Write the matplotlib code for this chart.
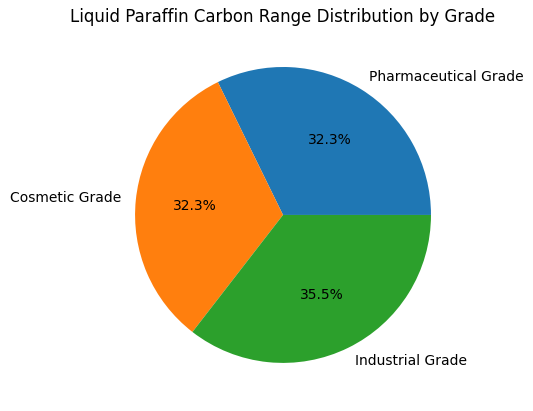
import matplotlib
matplotlib.use("Agg")
import matplotlib.pyplot as plt

grades = ["Pharmaceutical Grade", "Cosmetic Grade", "Industrial Grade"]
values = [10, 10, 11]

fig = plt.figure(figsize=(5.33, 4.11), dpi=100)
ax = fig.add_axes([0.184, 0.027, 0.694, 0.900])
ax.pie(values, labels=grades, autopct="%1.1f%%")
ax.set_title("Liquid Paraffin Carbon Range Distribution by Grade")
fig.savefig("out.png", dpi=100)
